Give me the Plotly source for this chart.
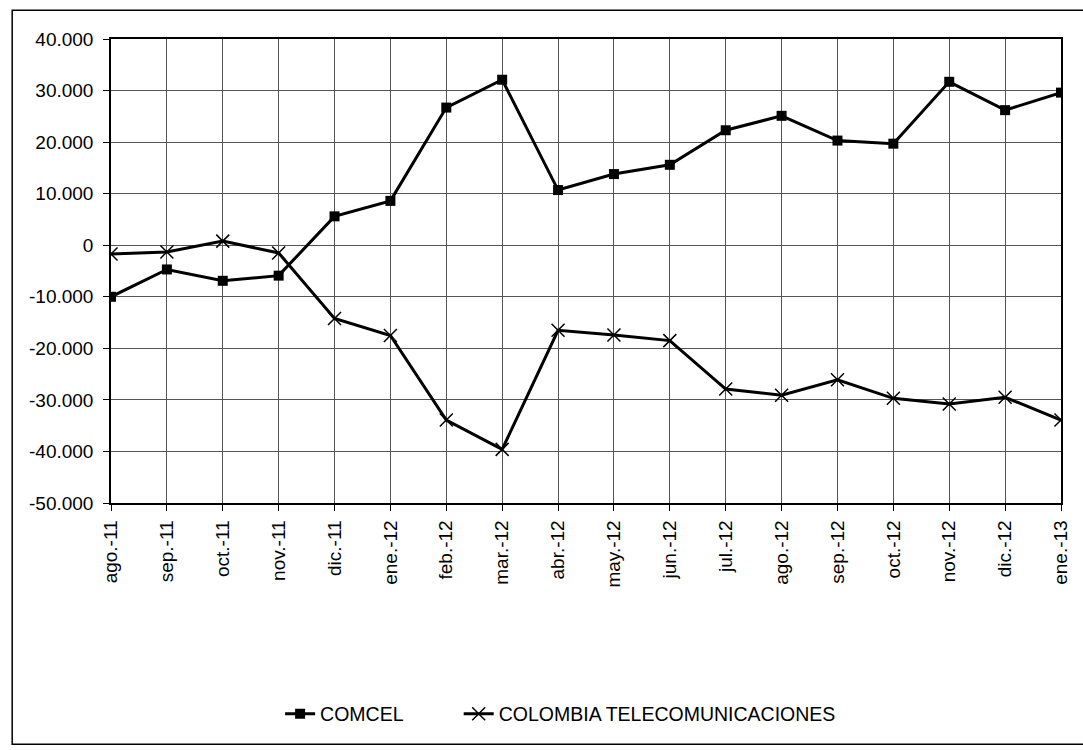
import plotly.graph_objects as go

months = ["ago.-11", "sep.-11", "oct.-11", "nov.-11", "dic.-11", "ene.-12",
          "feb.-12", "mar.-12", "abr.-12", "may.-12", "jun.-12", "jul.-12",
          "ago.-12", "sep.-12", "oct.-12", "nov.-12", "dic.-12", "ene.-13"]

comcel = [-10000, -4700, -6900, -5900, 5600, 8600, 26700, 32100, 10700,
          13800, 15600, 22300, 25100, 20300, 19700, 31700, 26200, 29600]

colombia_tel = [-1700, -1300, 800, -1500, -14200, -17500, -33900, -39600, -16500,
                -17400, -18500, -27900, -29100, -26100, -29700, -30800, -29500, -33900]

y_tick_values = [40000, 30000, 20000, 10000, 0, -10000, -20000, -30000, -40000, -50000]
y_tick_labels = ["40.000", "30.000", "20.000", "10.000", "0", "-10.000",
                 "-20.000", "-30.000", "-40.000", "-50.000"]

FONT = "Liberation Sans, Arial, sans-serif"
FS = 19

fig = go.Figure()
fig.add_trace(go.Scatter(
    x=months, y=comcel, name="COMCEL", mode="lines+markers",
    line=dict(color="black", width=3),
    marker=dict(symbol="square", size=10, color="black"),
    legend="legend",
))
fig.add_trace(go.Scatter(
    x=months, y=colombia_tel, name="COLOMBIA TELECOMUNICACIONES", mode="lines+markers",
    line=dict(color="black", width=3),
    marker=dict(symbol="x-thin", size=13, color="black",
                line=dict(color="black", width=1.5)),
    legend="legend2",
))

legend_common = dict(orientation="h", xanchor="left", y=-0.455, yanchor="middle",
                     font=dict(family=FONT, size=19.5, color="black"),
                     bgcolor="rgba(0,0,0,0)", itemclick=False)

fig.update_layout(
    width=1083, height=750,
    margin=dict(l=111, r=15, t=39, b=247),
    paper_bgcolor="white", plot_bgcolor="white",
    font=dict(family=FONT, size=FS, color="black"),
    showlegend=True,
    legend=dict(x=0.178, **legend_common),
    legend2=dict(x=0.366, **legend_common),
    xaxis=dict(
        type="category", range=[0, len(months) - 1],
        showgrid=True, gridcolor="#555555", gridwidth=1,
        showline=True, linecolor="black", linewidth=1.5, mirror=True,
        ticks="outside", ticklen=6, tickcolor="black",
        tickangle=-90, tickfont=dict(family=FONT, size=FS, color="black"),
        ticklabelstandoff=2,
    ),
    yaxis=dict(
        range=[-50000, 40000],
        tickmode="array", tickvals=y_tick_values, ticktext=y_tick_labels,
        showgrid=True, gridcolor="#555555", gridwidth=1,
        zeroline=False,
        showline=True, linecolor="black", linewidth=1.5, mirror=True,
        ticks="outside", ticklen=6, tickcolor="black",
        tickfont=dict(family=FONT, size=FS, color="black"),
        ticklabelstandoff=6,
    ),
    shapes=[dict(type="rect", xref="paper", yref="paper",
                 x0=-0.104, x1=1.05, y0=-0.52, y1=1.062,
                 line=dict(color="black", width=1.5), fillcolor="rgba(0,0,0,0)",
                 layer="below")],
)

fig.write_html("out.html")
